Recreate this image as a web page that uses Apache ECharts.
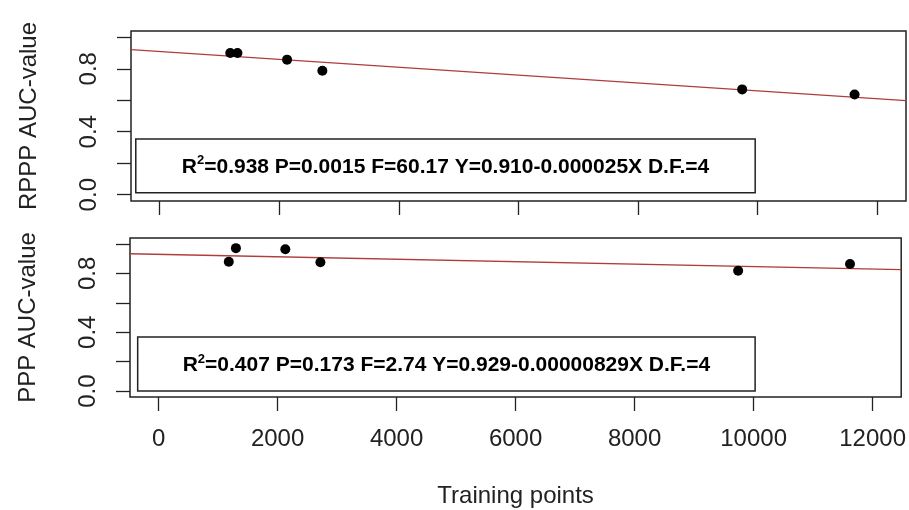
<!DOCTYPE html>
<html><head><meta charset="utf-8">
<script src="https://cdn.jsdelivr.net/npm/echarts@6/dist/echarts.min.js"></script>
<style>html,body{margin:0;padding:0;background:#fff}#c{width:909px;height:510px}</style>
</head><body><div id="c"></div>
<script>
const trainingPoints = [1180, 1300, 2130, 2720, 9740, 11620];
const rpppAUC = [0.900, 0.900, 0.858, 0.787, 0.669, 0.637];
const pppAUC  = [0.879, 0.971, 0.964, 0.875, 0.818, 0.864];
const fitIntercept = [0.910, 0.929];
const fitSlope = [-0.000025, -0.00000829];
const xTicks = [0, 2000, 4000, 6000, 8000, 10000, 12000];
const yTicks = [0, 0.2, 0.4, 0.6, 0.8, 1.0];
const yTickLabels = [0, 0.4, 0.8];
const panelNames = ['RPPP AUC-value', 'PPP AUC-value'];
const statLines = ['=0.938 P=0.0015 F=60.17 Y=0.910-0.000025X D.F.=4',
                   '=0.407 P=0.173 F=2.74 Y=0.929-0.00000829X D.F.=4'];
const xTitle = 'Training points';

const XMIN = -480, XMAX = 12480, YMIN = -0.04, YMAX = 1.04;
const boxes = [
  [[-400, 0.013], [9958, 0.354]],
  [[-351, 0.0], [10025, 0.368]]
];
const ink = '#222';
const chart = echarts.init(document.getElementById('c'), null, {renderer: 'canvas'});

const grids = [
  {left: 131, top: 31, width: 775, height: 170},
  {left: 130, top: 238, width: 774, height: 159}
].map(g => Object.assign(g, {show: true, borderColor: ink, borderWidth: 1.5, backgroundColor: 'transparent', containLabel: false}));

const xAxes = [0, 1].map(i => ({
  type: 'value', gridIndex: i, min: XMIN, max: XMAX, position: 'bottom',
  axisLine: {show: false, onZero: false},
  splitLine: {show: false},
  axisTick: {show: true, inside: false, length: 14, customValues: xTicks, lineStyle: {color: ink, width: 1.3}},
  axisLabel: {show: i === 1, customValues: xTicks, margin: 30, fontSize: 24,
    fontFamily: 'Liberation Sans, Arial, sans-serif', color: ink, formatter: v => String(v)},
  name: i === 1 ? xTitle : '', nameLocation: 'middle', nameGap: 87,
  nameTextStyle: {fontSize: 24, fontFamily: 'Liberation Sans, Arial, sans-serif', color: ink}
}));

const yAxes = [0, 1].map(i => ({
  type: 'value', gridIndex: i, min: YMIN, max: YMAX, position: 'left',
  axisLine: {show: false, onZero: false},
  splitLine: {show: false},
  axisTick: {show: true, inside: false, length: 14, customValues: yTicks, lineStyle: {color: ink, width: 1.3}},
  axisLabel: {show: true, customValues: yTickLabels, rotate: 90, margin: 30, fontSize: 24,
    fontFamily: 'Liberation Sans, Arial, sans-serif', color: ink,
    formatter: v => v.toFixed(1)},
  name: panelNames[i], nameLocation: 'middle', nameGap: 90, nameRotate: 90,
  nameTextStyle: {fontSize: 24, fontFamily: 'Liberation Sans, Arial, sans-serif', color: ink}
}));

const series = [];
[rpppAUC, pppAUC].forEach((vals, i) => {
  series.push({
    type: 'line', xAxisIndex: i, yAxisIndex: i, symbol: 'none', silent: true,
    data: [[XMIN, fitIntercept[i] + fitSlope[i] * XMIN], [XMAX, fitIntercept[i] + fitSlope[i] * XMAX]],
    lineStyle: {color: '#b03c3c', width: 1.3}, z: 2,
    markArea: {
      silent: true,
      itemStyle: {color: '#fff', borderColor: ink, borderWidth: 1.5},
      label: {
        show: true, position: 'inside',
        formatter: '{b|R}{s|2}{b|' + statLines[i] + '}',
        rich: {
          b: {fontSize: 21, fontWeight: 'bold', fontFamily: 'Liberation Sans, Arial, sans-serif', color: '#000', verticalAlign: 'bottom'},
          s: {fontSize: 13, fontWeight: 'bold', fontFamily: 'Liberation Sans, Arial, sans-serif', color: '#000', verticalAlign: 'top', padding: [0, 0, 10, 0]}
        }
      },
      data: [[{coord: boxes[i][0]}, {coord: boxes[i][1]}]]
    }
  });
  series.push({
    type: 'scatter', xAxisIndex: i, yAxisIndex: i, symbol: 'circle', symbolSize: 10,
    itemStyle: {color: '#000', opacity: 1}, z: 5,
    data: trainingPoints.map((x, k) => [x, vals[k]])
  });
});

chart.setOption({
  animation: false,
  backgroundColor: '#fff',
  grid: grids, xAxis: xAxes, yAxis: yAxes, series: series
});
</script></body></html>
